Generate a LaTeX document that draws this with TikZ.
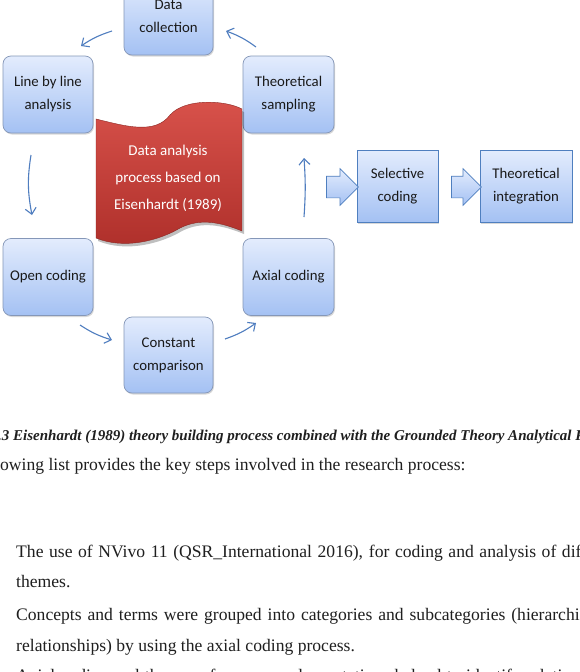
\documentclass[tikz,border=0pt]{standalone}
\usepackage{fontspec}
\setmainfont{Liberation Serif}
\newfontfamily\calib{Carlito}
\usetikzlibrary{arrows.meta,shapes.arrows,shadows,calc}
\definecolor{boxtop}{HTML}{E3ECFD}
\definecolor{boxbot}{HTML}{A4C1F3}
\definecolor{boxedge}{HTML}{8597B8}
\definecolor{sqedge}{HTML}{4F7FBF}
\definecolor{arr}{HTML}{4F7DBF}
\definecolor{redtop}{HTML}{D8524B}
\definecolor{redbot}{HTML}{AE2F2A}
\begin{document}
\begin{tikzpicture}[x=1pt,y=1pt,
  stepbox/.style={draw=boxedge, line width=0.7pt, rounded corners=8pt,
    top color=boxtop, bottom color=boxbot, minimum width=90pt, minimum height=77pt,
    align=center, inner sep=2pt, text=black!90,
    font=\calib\fontsize{14.8}{23}\selectfont,
    drop shadow={opacity=0.3, shadow xshift=1pt, shadow yshift=-1.5pt}},
  sqbox/.style={stepbox, rounded corners=0pt, draw=sqedge, minimum height=72pt},
  flow/.style={draw=arr, line width=1.1pt, -{Straight Barb[length=6pt,width=11pt]}},
  blockarrow/.style={single arrow, draw=sqedge, line width=0.7pt,
    top color=boxtop, bottom color=boxbot, inner xsep=0pt, inner ysep=10.5pt,
    single arrow head extend=7.5pt, single arrow tip angle=90, minimum height=32pt},
  body/.style={anchor=base west, inner sep=0pt, font=\fontsize{17.6}{21}\selectfont, text=black!88},
]
\fill[white] (0,0) rectangle (579,-672);
\useasboundingbox (0,0) rectangle (579,-672);

% cycle boxes
\node[stepbox, minimum width=89pt] (dc) at (168.5,-16.5) {Data\\collection};
\node[stepbox] (lbl) at (48,-94.5) {Line by line\\analysis};
\node[stepbox, minimum width=91pt] (ts) at (288.5,-94.5) {Theoretical\\sampling};
\node[stepbox] (oc) at (48,-277) {Open coding};
\node[stepbox, minimum width=91pt] (ax) at (288.5,-277) {Axial coding};
\node[stepbox, minimum width=89pt, minimum height=76pt] (cc) at (168.5,-355) {Constant\\comparison};

% central red wave
\path[fill=black, opacity=0.25, shift={(2,-3)}]
  (96,-119) .. controls (125,-126) and (155,-135) .. (170,-115)
  .. controls (185,-98) and (225,-100) .. (242,-109)
  -- (242,-231) .. controls (220,-222) and (200,-218) .. (180,-228)
  .. controls (160,-240) and (125,-250) .. (96,-238) -- cycle;
\shade[top color=redtop, bottom color=redbot, draw=redbot!80!black, line width=0.4pt]
  (96,-119) .. controls (125,-126) and (155,-135) .. (170,-115)
  .. controls (185,-98) and (225,-100) .. (242,-109)
  -- (242,-231) .. controls (220,-222) and (200,-218) .. (180,-228)
  .. controls (160,-240) and (125,-250) .. (96,-238) -- cycle;
\node[align=center, text=white, font=\calib\fontsize{15}{27}\selectfont] (core) at (168,-178)
  {Data analysis\\process based on\\Eisenhardt (1989)};

% right boxes
\node[sqbox, minimum width=81pt] (sc) at (397.5,-186) {Selective\\coding};
\node[sqbox, minimum width=92pt] (ti) at (526,-186) {Theoretical\\integration};
\node[blockarrow] (ba1) at (337,-187) {};
\node[blockarrow, minimum height=30pt] (ba2) at ($(sc.east)!0.5!(ti.west)+(2,-1)$) {};

% cycle connectors
\coordinate (a1s) at (112,-31);  \coordinate (a1e) at (81,-46);
\coordinate (a2s) at (256,-47);  \coordinate (a2e) at (226,-31);
\coordinate (a3s) at (31,-155);  \coordinate (a3e) at (32,-215);
\coordinate (a4s) at (80,-325);  \coordinate (a4e) at (112,-340);
\coordinate (a5s) at (225,-339); \coordinate (a5e) at (256,-323);
\coordinate (a6s) at (304,-217); \coordinate (a6e) at (304,-158);
\draw[flow] (a1s) to[bend right=8] (a1e);
\draw[flow] (a2s) to[bend right=8] (a2e);
\draw[flow] (a3s) to[bend right=10] (a3e);
\draw[flow] (a4s) to[bend right=8] (a4e);
\draw[flow] (a5s) to[bend right=8] (a5e);
\draw[flow] (a6s) to[bend right=4] (a6e);

% caption and body text
\node[anchor=base west, inner sep=0pt, font=\fontsize{15}{18}\selectfont\bfseries\itshape, text=black!88] (cap) at (13,-440)
  {\llap{Figure 4.3\ }Eisenhardt (1989) theory building process combined with the Grounded Theory Analytical Process};
\node[body] (t0) at (0,-470) {\llap{The foll}owing list provides the key steps involved in the research process:};
\node[body] (t1) at (16,-557) {\hbox to 606pt{The use of NVivo 11 (QSR\_International 2016), for coding and analysis of different}};
\node[body] (t2) at (16,-587) {themes.};
\node[body] (t3) at (16,-620) {\hbox to 584pt{Concepts and terms were grouped into categories and subcategories (hierarchical}};
\node[body] (t4) at (16,-651) {relationships) by using the axial coding process.};
\node[body] (t5) at (16,-681) {\hbox to 600pt{Axial coding and the use of memos and annotations helped to identify relationships}};
\end{tikzpicture}
\end{document}
